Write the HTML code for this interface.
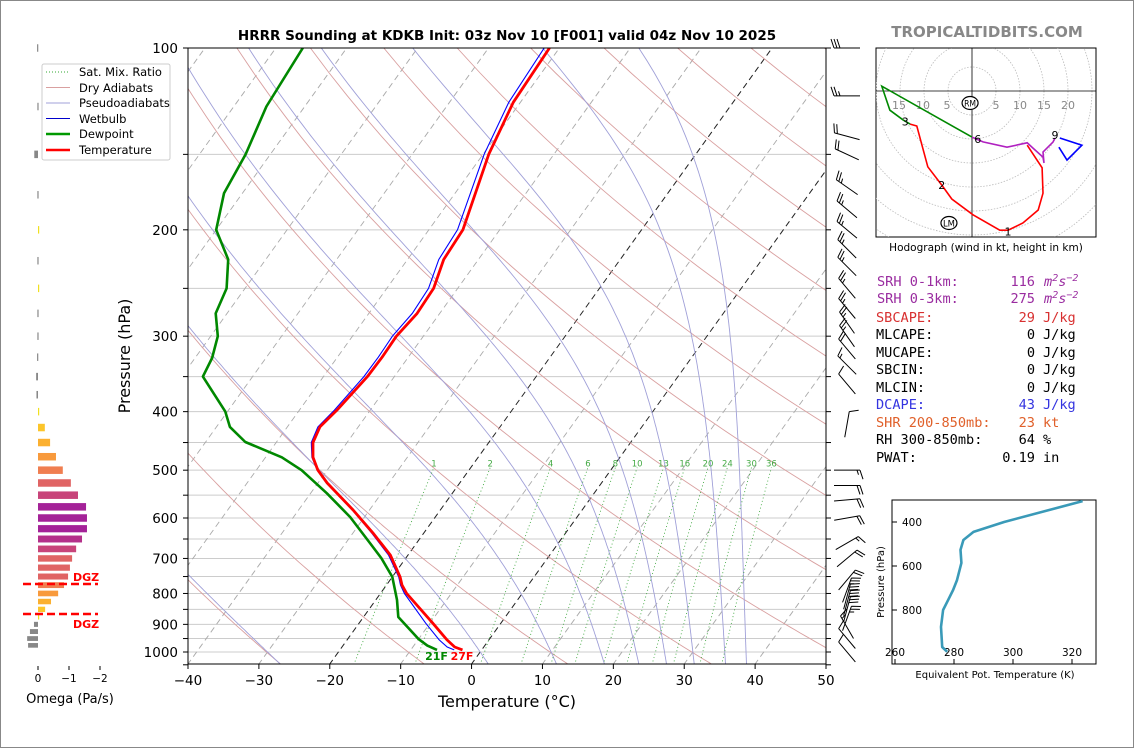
<!DOCTYPE html>
<html><head><meta charset="utf-8"><style>
html,body{margin:0;padding:0;background:#fff;}
svg{display:block;font-family:"DejaVu Sans","Liberation Sans",sans-serif;}
.mono{font-family:"DejaVu Sans Mono","Liberation Mono",monospace;font-size:13.6px;}
</style></head><body>
<svg id="root" width="1134" height="748" viewBox="0 0 1134 748" xmlns="http://www.w3.org/2000/svg">
<rect x="0.5" y="0.5" width="1133" height="747" fill="#fff" stroke="#888"/>
<defs><clipPath id="cp"><rect x="188" y="48" width="638" height="616"/></clipPath>
<clipPath id="hc"><rect x="876" y="48" width="220" height="189"/></clipPath>
<clipPath id="tc"><rect x="892" y="500" width="204" height="164"/></clipPath></defs>
<text x="507" y="40" text-anchor="middle" font-size="13.5" font-weight="bold">HRRR Sounding at KDKB Init: 03z Nov 10 [F001] valid 04z Nov 10 2025</text>
<text x="987" y="37" text-anchor="middle" font-size="15" font-weight="bold" fill="#888">TROPICALTIDBITS.COM</text>
<g id="bg" clip-path="url(#cp)"></g>
<g id="prof" clip-path="url(#cp)"></g>
<g id="axes"></g>
<g id="barbs"></g>
<g id="omega"></g>
<g id="hodo"></g>
<g id="thetae"></g>
<text x="130" y="356" transform="rotate(-90 130 356)" text-anchor="middle" font-size="16">Pressure (hPa)</text>
<text x="507" y="707" text-anchor="middle" font-size="16">Temperature (°C)</text>
<g>
<rect x="42" y="64" width="128" height="96" rx="2" fill="#fff" stroke="#ccc"/>
<line x1="46" y1="72" x2="70" y2="72" stroke="#3a3" stroke-dasharray="1,2"/>
<text x="79" y="76" font-size="11.5">Sat. Mix. Ratio</text>
<line x1="46" y1="87.5" x2="70" y2="87.5" stroke="#d9a0a0"/>
<text x="79" y="92" font-size="11.5">Dry Adiabats</text>
<line x1="46" y1="103" x2="70" y2="103" stroke="#a0a0d8"/>
<text x="79" y="107" font-size="11.5">Pseudoadiabats</text>
<line x1="46" y1="118.5" x2="70" y2="118.5" stroke="#00c"/>
<text x="79" y="123" font-size="11.5">Wetbulb</text>
<line x1="46" y1="134" x2="70" y2="134" stroke="#090" stroke-width="2.5"/>
<text x="79" y="138" font-size="11.5">Dewpoint</text>
<line x1="46" y1="150" x2="70" y2="150" stroke="#f00" stroke-width="2.5"/>
<text x="79" y="154" font-size="11.5">Temperature</text>
</g>
<g class="mono">
<text x="877" y="286" fill="#9a2ca0">SRH 0-1km:</text><text x="1035" y="286" text-anchor="end" fill="#9a2ca0">116</text><text x="1044" y="286" fill="#9a2ca0" font-style="italic">m<tspan dy="-5" font-size="10">2</tspan><tspan dy="5">s</tspan><tspan dy="-5" font-size="10">−2</tspan></text>
<text x="877" y="303" fill="#9a2ca0">SRH 0-3km:</text><text x="1035" y="303" text-anchor="end" fill="#9a2ca0">275</text><text x="1044" y="303" fill="#9a2ca0" font-style="italic">m<tspan dy="-5" font-size="10">2</tspan><tspan dy="5">s</tspan><tspan dy="-5" font-size="10">−2</tspan></text>
<text x="876" y="322" fill="#d83030">SBCAPE:</text><text x="1035" y="322" text-anchor="end" fill="#d83030">29</text><text x="1043" y="322" fill="#d83030">J/kg</text>
<text x="876" y="339">MLCAPE:</text><text x="1035" y="339" text-anchor="end">0</text><text x="1043" y="339">J/kg</text>
<text x="876" y="357">MUCAPE:</text><text x="1035" y="357" text-anchor="end">0</text><text x="1043" y="357">J/kg</text>
<text x="876" y="374">SBCIN:</text><text x="1035" y="374" text-anchor="end">0</text><text x="1043" y="374">J/kg</text>
<text x="876" y="392">MLCIN:</text><text x="1035" y="392" text-anchor="end">0</text><text x="1043" y="392">J/kg</text>
<text x="876" y="409" fill="#3434e0">DCAPE:</text><text x="1035" y="409" text-anchor="end" fill="#3434e0">43</text><text x="1043" y="409" fill="#3434e0">J/kg</text>
<text x="876" y="427" fill="#e0602a">SHR 200-850mb:</text><text x="1035" y="427" text-anchor="end" fill="#e0602a">23</text><text x="1043" y="427" fill="#e0602a">kt</text>
<text x="876" y="444">RH 300-850mb:</text><text x="1035" y="444" text-anchor="end">64</text><text x="1043" y="444">%</text>
<text x="876" y="462">PWAT:</text><text x="1035" y="462" text-anchor="end">0.19</text><text x="1043" y="462">in</text>
</g>
</svg>
<script>
// ---- sounding data ----
const presT=[100,123,150,200,224,250,275,300,325,350,398,424,450,476,500,525,582,635,691,751,775,800,896,955,981,992];
const tempC=[-51.4,-51.0,-49.2,-45.2,-44.9,-43.4,-43.2,-43.8,-43.7,-43.8,-44.7,-45.4,-44.8,-43.3,-41.3,-38.7,-32.3,-27.2,-22.5,-18.9,-17.8,-16.3,-9.6,-5.9,-4.1,-2.7];
const presD=[100,125,150,174,200,224,250,275,300,326,350,400,424,449,476,500,546,598,660,700,751,820,875,952,976,992];
const dewC=[-86.2,-85.4,-83.5,-82.6,-80,-75.3,-72.6,-71.6,-69,-67.6,-67,-60.3,-58.1,-54.4,-47.7,-43.6,-37.7,-32,-26.6,-23.4,-20,-17,-15.1,-10,-8.1,-6.3];
const mixLabels=[1,2,4,6,8,10,13,16,20,24,30,36];
const tempTicks=[-40,-30,-20,-10,0,10,20,30,40,50];
const presTicks=[100,200,300,400,500,600,700,800,900,1000];
const moistStarts=[-30,0,10,17,22,26,30,34.5,37.5];
// wind: pressure, direction (deg from), speed (kt)
const barbP=[100,120,140,150,170,185,200,215,230,250,270,285,300,315,335,360,420,500,530,560,600,660,700,760,790,810,830,850,880,910,950,1000];
const barbDir=[270,270,285,295,305,310,310,315,315,320,320,325,325,320,315,320,10,90,90,85,80,60,50,40,20,15,15,15,20,330,320,320];
const barbSpd=[30,25,20,20,25,25,25,25,25,25,25,25,25,20,15,10,10,15,20,20,20,15,20,20,25,30,30,30,25,15,10,10];
// omega (Pa/s)
const omegaP=[100,125,150,175,200,225,250,275,300,325,350,375,400,425,450,475,500,525,550,575,600,625,650,675,700,725,750,775,800,825,850,875,900,925,950,975];
const omegaV=[0.03,0.02,0.12,0.02,-0.03,0.02,-0.03,0.02,0.02,0.03,0.06,0.05,-0.03,-0.22,-0.39,-0.58,-0.8,-1.06,-1.29,-1.55,-1.58,-1.58,-1.42,-1.23,-1.1,-1.03,-0.97,-0.84,-0.65,-0.42,-0.23,-0.03,0.13,0.26,0.35,0.32];
// hodograph (kt)
const hodoRedU=[11.5,14.6,14.8,13.8,10.6,7.5,5.8,0.2,-4.2,-6.3,-9.2,-11.5,-12.9];
const hodoRedV=[-11.3,-16.0,-21.3,-24.8,-27.5,-29.0,-29.0,-25.8,-22.5,-19.6,-15.8,-7.3,-6.9];
const hodoGreenU=[-12.9,-14.4,-17.1,-18.8,0];
const hodoGreenV=[-6.9,-6.0,-4.0,1.0,-9.6];
const hodoPurpleU=[0,2.3,7.3,11.5,12.7,14.8,15.0,14.8,16.9,17.3];
const hodoPurpleV=[-9.6,-10.6,-11.7,-10.8,-11.9,-13.8,-15.0,-12.7,-10.6,-9.8];
const hodoBlueU=[18.3,22.9,19.8,18.1];
const hodoBlueV=[-9.8,-11.3,-14.4,-11.7];
// theta-e profile
const thetaP=[305,400,445,482,527,586,664,709,755,800,877,968,990];
const thetaE=[323.6,297,286.6,283.2,282.2,282.5,281,279.7,278,276.3,275.6,276,277.7];

const NS='http://www.w3.org/2000/svg';
function mk(tag,attrs,parent){const e=document.createElementNS(NS,tag);for(const k in attrs)e.setAttribute(k,attrs[k]);parent.appendChild(e);return e;}
const yP=p=>48+604*Math.log10(p/100);
const xT=(T,p)=>188+(T+40)*7.089+(664-yP(p))*0.718;
const bg=document.getElementById('bg'),prof=document.getElementById('prof'),axes=document.getElementById('axes');
function pathFrom(pts){return 'M'+pts.map(q=>q[0].toFixed(1)+','+q[1].toFixed(1)).join('L');}
const es=T=>6.112*Math.exp(17.67*T/(T+243.5));
let el;
// gridlines
for(let p=100;p<=1050;p+=50){el=mk('line',{x1:188,x2:826,y1:yP(p),y2:yP(p),stroke:'#ccc','stroke-width':1},bg);}
// isotherms
for(let T=-130;T<=50;T+=10){const dash=(T===0||T===-20);el=mk('line',{x1:xT(T,1050),y1:yP(1050),x2:xT(T,100),y2:yP(100),stroke:dash?'#222':'#aaa','stroke-dasharray':'6,4','stroke-width':dash?1:0.9},bg);}
// dry adiabats
for(let th=203;th<=633;th+=20){const pts=[];for(let p=1050;p>=100;p-=10){pts.push([xT(th*Math.pow(p/1000,0.2857)-273.15,p),yP(p)]);}el=mk('path',{d:pathFrom(pts),fill:'none',stroke:'#d9a0a0','stroke-width':0.9},bg);}
// moist adiabats
function moistDT(T,p){const Tk=T+273.15;const rs=0.622*es(T)/(p-es(T));const Lv=2.5e6,Rd=287,cp=1005;return (Rd*Tk+Lv*rs)/(cp+Lv*Lv*rs*0.622/(Rd*Tk*Tk))/p;}
moistStarts.forEach(T0=>{let pts=[];let T=T0;for(let p=1000;p<=1050;p+=5){pts.unshift([xT(T,p),yP(p)]);T+=moistDT(T,p)*5;}T=T0;for(let p=1000;p>=100;p-=5){pts.push([xT(T,p),yP(p)]);T-=moistDT(T,p)*5;}el=mk('path',{d:pathFrom(pts),fill:'none',stroke:'#a0a0d8','stroke-width':0.9},bg);});
// mixing ratio
mixLabels.forEach(w=>{const pts=[];const tdw=p=>{const e=w*p/(622+w);const a=Math.log(e/6.112);return 243.5*a/(17.67-a);};for(let p=1050;p>=495;p-=5)pts.push([xT(tdw(p),p),yP(p)]);el=mk('path',{d:pathFrom(pts),fill:'none',stroke:'#4a4','stroke-width':0.9,'stroke-dasharray':'1,2.5'},bg);const t=mk('text',{x:xT(tdw(495),495),y:yP(495)-1,'font-size':8.5,fill:'#4a4','text-anchor':'middle'},bg);t.textContent=w;});
// wetbulb
function wetbulb(T,Td,p){const e=es(Td);let lo=Td,hi=T;for(let i=0;i<40;i++){const m=(lo+hi)/2;const f=es(m)-e-0.00066*p*(T-m);if(f>0)hi=m;else lo=m;}return (lo+hi)/2;}
function interp(ps,vs,p){for(let i=0;i<ps.length-1;i++){if(p>=ps[i]&&p<=ps[i+1]){const f=Math.log(p/ps[i])/Math.log(ps[i+1]/ps[i]);return vs[i]+f*(vs[i+1]-vs[i]);}}return vs[p<ps[0]?0:vs.length-1];}
const wbPts=presT.map((p,i)=>{const Tw=wetbulb(tempC[i],interp(presD,dewC,p),p);return [xT(Tw,p),yP(p)];});
el=mk('path',{d:pathFrom(wbPts),fill:'none',stroke:'#00f','stroke-width':1.1},prof);

el=mk('path',{d:pathFrom(presD.map((p,i)=>[xT(dewC[i],p),yP(p)])),fill:'none',stroke:'#080','stroke-width':2.6,'stroke-linejoin':'round'},prof);

el=mk('path',{d:pathFrom(presT.map((p,i)=>[xT(tempC[i],p),yP(p)])),fill:'none',stroke:'#f00','stroke-width':2.8,'stroke-linejoin':'round'},prof);

// surface labels
const sT=tempC[tempC.length-1],sD=dewC[dewC.length-1];
el=mk('text',{x:xT(sT,1000)+1,y:660,'font-size':11,'font-weight':'bold',fill:'#f00','text-anchor':'middle'},axes);el.textContent=Math.round(sT*9/5+32)+'F';

el=mk('text',{x:xT(sD,1000)+1,y:660,'font-size':11,'font-weight':'bold',fill:'#080','text-anchor':'middle'},axes);el.textContent=Math.round(sD*9/5+32)+'F';

// axes frame
el=mk('rect',{x:188,y:48,width:638,height:616,fill:'none',stroke:'#000','stroke-width':1},axes);

for(let p=100;p<=1050;p+=50){el=mk('line',{x1:183,x2:188,y1:yP(p),y2:yP(p),stroke:'#000'},axes);
el=mk('line',{x1:826,x2:831,y1:yP(p),y2:yP(p),stroke:'#000'},axes);}
presTicks.forEach(p=>{el=mk('text',{x:178,y:yP(p)+5,'font-size':13.5,'text-anchor':'end'},axes);el.textContent=p;});
tempTicks.forEach(T=>{const x=188+(T+40)*7.089;el=mk('line',{x1:x,x2:x,y1:664,y2:669,stroke:'#000'},axes);
el=mk('text',{x:x,y:685,'font-size':13.5,'text-anchor':'middle'},axes);el.textContent=(T<0?'−':'')+Math.abs(T);});
// barbs
const bg2=document.getElementById('barbs');
barbP.forEach((p,i)=>{const d=barbDir[i]*Math.PI/180;const vx=Math.sin(d),vy=-Math.cos(d);const cx=847,cy=yP(p),L=26;const tx=cx+vx*L/2,ty=cy+vy*L/2;const px=-vy,py=vx;let s='M'+(cx-vx*L/2)+','+(cy-vy*L/2)+'L'+tx+','+ty;let spd=Math.round(barbSpd[i]/5)*5;let off=0;while(spd>=10){const bx=tx-vx*off,by=ty-vy*off;s+='M'+bx+','+by+'L'+(bx+px*9+vx*3)+','+(by+py*9+vy*3);off+=3;spd-=10;}if(spd>=5){if(off===0)off=3;const bx=tx-vx*off,by=ty-vy*off;s+='M'+bx+','+by+'L'+(bx+px*4.5+vx*1.5)+','+(by+py*4.5+vy*1.5);}
const b=mk('path',{d:s,fill:'none',stroke:'#000','stroke-width':1},bg2);});
// omega panel
const om=document.getElementById('omega');const ox=v=>38-v*31;
function omColor(v){if(v>0)return '#888';const m=-v;if(m<0.1)return '#f0e020';if(m<0.3)return '#fcc52a';if(m<0.5)return '#fbb030';if(m<0.7)return '#f89a3c';if(m<0.9)return '#f07e50';if(m<1.15)return '#e06464';if(m<1.35)return '#c8447a';if(m<1.5)return '#b4308a';return '#a42298';}
omegaP.forEach((p,i)=>{const v=omegaV[i];const y1=yP(p),h=Math.min(7.5,Math.max(2,(yP(p+25)-y1)*0.7));const x1=Math.min(ox(0),ox(v));const w=Math.max(1.2,Math.abs(ox(v)-ox(0)));const r=mk('rect',{x:x1,y:y1-h/2,width:w,height:h,fill:omColor(v)},om);});
[0,-1,-2].forEach(v=>{el=mk('line',{x1:ox(v),x2:ox(v),y1:666,y2:670,stroke:'#000'},om);
el=mk('text',{x:ox(v),y:682,'font-size':10.5,'text-anchor':'middle'},om);el.textContent=v===0?'0':'−'+(-v);});
el=mk('text',{x:70,y:703,'font-size':13,'text-anchor':'middle'},om);el.textContent='Omega (Pa/s)';
[[584,577],[614,624]].forEach(a=>{el=mk('line',{x1:23,x2:98,y1:a[0],y2:a[0],stroke:'#f00','stroke-width':2.5,'stroke-dasharray':'8,4'},om);
el=mk('text',{x:73,y:a[1]+4,'font-size':11,'font-weight':'bold',fill:'#f00'},om);el.textContent='DGZ';});
// hodograph
const hg=document.getElementById('hodo');const hx=u=>972+u*4.8,hy=v=>91-v*4.8;
el=mk('rect',{x:876,y:48,width:220,height:189,fill:'#fff',stroke:'#000'},hg);
const hi=mk('g',{'clip-path':'url(#hc)'},hg);
for(let r=5;r<=60;r+=5){el=mk('circle',{cx:hx(0),cy:hy(0),r:r*4.8,fill:'none',stroke:'#bbb','stroke-width':0.8,'stroke-dasharray':'1.5,1.5'},hi);}
el=mk('line',{x1:876,x2:1096,y1:hy(0),y2:hy(0),stroke:'#000','stroke-width':0.8},hi);
el=mk('line',{x1:hx(0),x2:hx(0),y1:48,y2:237,stroke:'#000','stroke-width':0.8},hi);
[-15,-10,-5,5,10,15,20].forEach(k=>{el=mk('text',{x:hx(k)+(k<0?-1:0),y:109,'font-size':11,fill:'#888','text-anchor':'middle'},hi);el.textContent=Math.abs(k);});
[[hodoRedU,hodoRedV,'#f00','hodo-0-3km'],[hodoGreenU,hodoGreenV,'#080','hodo-3-6km'],[hodoPurpleU,hodoPurpleV,'#b020c0','hodo-6-9km'],[hodoBlueU,hodoBlueV,'#00f','hodo-9km-plus']].forEach(s=>{el=mk('path',{d:pathFrom(s[0].map((u,i)=>[hx(u),hy(s[1][i])])),fill:'none',stroke:s[2],'stroke-width':1.6},hi);});
[['3',-13.9,-6.4],['2',-6.3,-19.6],['1',7.5,-29.3],['6',1.2,-10],['9',17.3,-9.2]].forEach(a=>{el=mk('text',{x:hx(a[1]),y:hy(a[2])+4,'font-size':11,'text-anchor':'middle'},hi);el.textContent=a[0];});
[['RM',-0.4,-2.5],['LM',-4.8,-27.5]].forEach(a=>{el=mk('ellipse',{cx:hx(a[1]),cy:hy(a[2]),rx:8,ry:6.5,fill:'#fff',stroke:'#000','stroke-width':1.2},hi);
el=mk('text',{x:hx(a[1]),y:hy(a[2])+3.5,'font-size':8.5,'text-anchor':'middle',textLength:12,lengthAdjust:'spacingAndGlyphs'},hi);el.textContent=a[0];});
el=mk('text',{x:986,y:251,'font-size':10.5,'text-anchor':'middle'},hg);el.textContent='Hodograph (wind in kt, height in km)';
// theta-e inset
const tg=document.getElementById('thetae');const ex=t=>895+(t-260)*2.95,ey=p=>522+(p-400)*0.22;
el=mk('rect',{x:892,y:500,width:204,height:164,fill:'#fff',stroke:'#000'},tg);
[260,280,300,320].forEach(t=>{el=mk('line',{x1:ex(t),x2:ex(t),y1:664,y2:659,stroke:'#000'},tg);
el=mk('text',{x:ex(t),y:656,'font-size':10.5,'text-anchor':'middle'},tg);el.textContent=t;});
[400,600,800].forEach(p=>{el=mk('line',{x1:892,x2:897,y1:ey(p),y2:ey(p),stroke:'#000'},tg);
el=mk('text',{x:902,y:ey(p)+4,'font-size':10.5},tg);el.textContent=p;});
el=mk('path',{d:pathFrom(thetaP.map((p,i)=>[ex(thetaE[i]),ey(p)])),fill:'none',stroke:'#3a9ab8','stroke-width':2.6,'stroke-linejoin':'round','clip-path':'url(#tc)'},tg);
el=mk('text',{x:995,y:678,'font-size':10,'text-anchor':'middle'},tg);el.textContent='Equivalent Pot. Temperature (K)';
el=mk('text',{x:884,y:582,'font-size':10,'text-anchor':'middle',transform:'rotate(-90 884 582)'},tg);el.textContent='Pressure (hPa)';
</script>
</body></html>
